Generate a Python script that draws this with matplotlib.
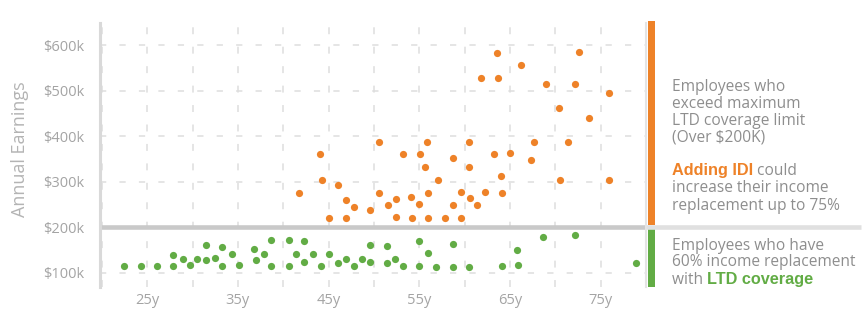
import matplotlib
matplotlib.use("Agg")
import matplotlib.pyplot as plt
from matplotlib.patches import Rectangle
import matplotlib.transforms as mtransforms

# 数据：年龄 / 年收入（单位 k$）
green_age = [22.5, 24.3, 26.1, 27.9, 27.9, 28.9, 29.7, 30.5, 31.5, 31.5,
             32.5, 33.3, 33.3, 34.3, 35.1, 36.8, 37.0, 37.9, 38.7, 38.7,
             40.6, 40.6, 41.4, 42.3, 42.3, 43.3, 44.2, 45.1, 46.0, 46.9,
             47.8, 48.7, 49.6, 49.6, 51.4, 51.4, 52.3, 53.2, 55.0, 55.0,
             56.0, 56.9, 58.7, 58.7, 60.5, 64.1, 65.8, 65.9, 68.6, 72.2,
             78.9]
green_earn = [114, 114, 114, 139, 114, 130, 116, 130, 161, 127,
              132, 156, 114, 142, 116, 152, 128, 142, 171, 114,
              171, 114, 142, 169, 124, 141, 114, 141, 121, 130,
              114, 130, 160, 123, 159, 121, 130, 114, 170, 115,
              143, 112, 164, 112, 112, 114, 151, 116, 178, 183,
              121]

orange_age = [41.7, 44.1, 44.3, 45.1, 46.0, 46.9, 46.9, 47.8, 49.6, 50.6,
              50.6, 51.5, 52.4, 52.4, 53.2, 54.1, 54.2, 55.0, 55.1, 55.6,
              55.9, 56.0, 56.0, 57.1, 57.8, 58.7, 58.7, 59.6, 59.6, 60.5,
              60.5, 60.6, 61.4, 61.8, 62.3, 63.2, 63.6, 63.7, 64.0, 64.1,
              65.0, 66.2, 67.3, 67.7, 69.0, 70.4, 70.5, 71.4, 72.2, 72.6,
              73.7, 75.9, 75.9]
orange_earn = [276, 360, 303, 220, 292, 260, 220, 245, 238, 388,
               276, 249, 262, 222, 360, 266, 220, 250, 360, 333,
               388, 276, 220, 304, 220, 352, 248, 277, 220, 388,
               333, 264, 248, 528, 277, 360, 583, 527, 312, 276,
               364, 556, 348, 388, 515, 462, 304, 388, 514, 585,
               441, 495, 303]

x_ticks = [25, 35, 45, 55, 65, 75]
x_grid = [20, 25, 30, 35, 40, 45, 50, 55, 60, 65, 70, 75, 80]
y_ticks = [100, 200, 300, 400, 500, 600]
threshold = 200

ORANGE = '#ee8228'
GREEN = '#62ac45'
TEXT = '#8e8e8e'
TICK = '#a4a4a4'
GRID = '#dedede'

plt.rcParams['font.family'] = ['Open Sans', 'DejaVu Sans']
plt.rcParams['lines.scale_dashes'] = False

fig = plt.figure(figsize=(8.68, 3.18), dpi=100)
ax = fig.add_axes([100 / 868, 1 - 287 / 318, 546 / 868, 264 / 318])
ax.set_xlim(19.8, 80.0)
ax.set_ylim(68.6, 649)

# 网格线（虚线）
for g in x_grid:
    ax.axvline(g, color=GRID, lw=1.1, dashes=(5, 9), zorder=0)
for t in y_ticks:
    if t != threshold:
        ax.axhline(t, color=GRID, lw=1.1, dashes=(4.5, 9.5), zorder=0)

ax.scatter(green_age, green_earn, s=27, color=GREEN, lw=0, zorder=3)
ax.scatter(orange_age, orange_earn, s=27, color=ORANGE, lw=0, zorder=3)

# $200k 分界线，延伸到右侧文字区
ax.axhline(threshold, xmin=0, xmax=1.0, color='#c9c9c9', lw=3.3, zorder=2,
           solid_capstyle='butt')
ax.axhline(threshold, xmin=1.0, xmax=(861 - 100) / 546, color='#e0e0e0',
           lw=3.3, zorder=2, clip_on=False, solid_capstyle='butt')

# 右侧彩色竖条
trans = mtransforms.blended_transform_factory(ax.transAxes, ax.transData)
ax.add_patch(Rectangle((1.0033, threshold + 5), 0.0125, 654 - threshold - 5,
                       transform=trans, color=ORANGE, clip_on=False, lw=0))
ax.add_patch(Rectangle((1.0033, 68.6), 0.0125, threshold - 4 - 68.6,
                       transform=trans, color=GREEN, clip_on=False, lw=0))

for side in ['top', 'bottom']:
    ax.spines[side].set_visible(False)
ax.spines['left'].set_color('#d9d9d9')
ax.spines['left'].set_linewidth(2.2)
ax.spines['right'].set_color('#e4e4e4')
ax.spines['right'].set_linewidth(1.5)

ax.set_xticks(x_ticks)
ax.set_xticklabels([f'{t}y' for t in x_ticks])
ax.set_yticks(y_ticks)
ax.set_yticklabels([f'${t}k' for t in y_ticks])
ax.tick_params(axis='both', length=0, colors=TICK, labelsize=10.5)
ax.tick_params(axis='y', pad=11)
ax.tick_params(axis='x', pad=4)
ax.set_ylabel('Annual Earnings', color='#b4b4b4', fontsize=13)
ax.yaxis.set_label_coords(-0.130, 0.523)

# 右侧说明文字
tx = 672 / 868
fs = 11.2
fs_bold = 11.7
lines_top = ['Employees who', 'exceed maximum', 'LTD coverage limit', '(Over $200K)']
for i, s in enumerate(lines_top):
    fig.text(tx, 1 - (91 + 17 * i) / 318, s, color=TEXT, fontsize=fs, va='baseline')

renderer = fig.canvas.get_renderer()


def mixed_line(y_px, bold, color, rest, lead=''):
    y = 1 - y_px / 318
    x = tx
    if lead:
        t0 = fig.text(x, y, lead, color=TEXT, fontsize=fs, va='baseline')
        x += t0.get_window_extent(renderer).width / fig.bbox.width
    t1 = fig.text(x, y, bold, color=color, fontsize=fs_bold, va='baseline',
                  fontweight='bold', family=['Liberation Sans', 'DejaVu Sans'])
    x += t1.get_window_extent(renderer).width / fig.bbox.width
    if rest:
        fig.text(x, y, rest, color=TEXT, fontsize=fs, va='baseline')


mixed_line(175, 'Adding IDI', ORANGE, ' could')
fig.text(tx, 1 - 192.5 / 318, 'increase their income', color=TEXT, fontsize=fs, va='baseline')
fig.text(tx, 1 - 210 / 318, 'replacement up to 75%', color=TEXT, fontsize=fs, va='baseline')

fig.text(tx, 1 - 249.5 / 318, 'Employees who have', color=TEXT, fontsize=fs, va='baseline')
fig.text(tx, 1 - 266.5 / 318, '60% income replacement', color=TEXT, fontsize=fs, va='baseline')
mixed_line(284, 'LTD coverage', GREEN, '', lead='with ')

fig.savefig('out.png', dpi=100)
